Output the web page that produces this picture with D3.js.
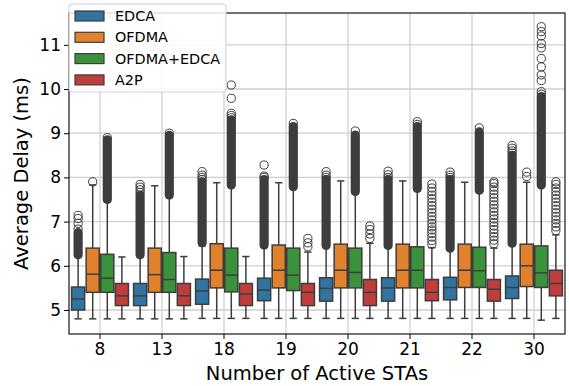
<!DOCTYPE html>
<html>
<head>
<meta charset="utf-8">
<script src="https://cdn.jsdelivr.net/npm/d3@7"></script>
<style>
  body { margin: 0; background: #fff; }
  svg { display: block; font-family: "DejaVu Sans", sans-serif; }
</style>
</head>
<body>
<div id="chart"></div>
<script>
// ---------- data ----------
const categories = ['8', '13', '18', '19', '20', '21', '22', '30'];
const methods = ['EDCA', 'OFDMA', 'OFDMA+EDCA', 'A2P'];
const colors = ['#3274a1', '#e1812c', '#3a923a', '#c03d3e'];
const yTicks = [5, 6, 7, 8, 9, 10, 11];

// [whisker low, q1, median, q3, whisker high] per category
const edcaBoxes = [
  [4.80, 5.00, 5.25, 5.52, 6.20], [4.80, 5.10, 5.32, 5.60, 6.20], [4.81, 5.13, 5.43, 5.70, 6.45],
  [4.81, 5.21, 5.45, 5.72, 6.42], [4.81, 5.20, 5.49, 5.73, 6.42], [4.81, 5.20, 5.50, 5.73, 6.42],
  [4.81, 5.23, 5.51, 5.74, 6.36], [4.81, 5.26, 5.51, 5.77, 6.47]
];
const ofdmaBoxes = [
  [4.80, 5.40, 5.81, 6.40, 7.83], [4.80, 5.40, 5.80, 6.40, 7.81], [4.81, 5.50, 5.90, 6.50, 7.88],
  [4.81, 5.50, 5.90, 6.47, 7.88], [4.81, 5.50, 5.90, 6.49, 7.92], [4.81, 5.50, 5.90, 6.49, 7.92],
  [4.81, 5.51, 5.90, 6.49, 7.89], [4.81, 5.53, 6.00, 6.49, 7.89]
];
const comboBoxes = [
  [4.80, 5.40, 5.72, 6.26, 7.45], [4.80, 5.40, 5.69, 6.30, 7.55], [4.81, 5.41, 5.79, 6.40, 7.78],
  [4.81, 5.44, 5.79, 6.40, 7.74], [4.81, 5.50, 5.85, 6.40, 7.63], [4.81, 5.50, 5.90, 6.43, 7.70],
  [4.81, 5.51, 5.89, 6.42, 7.66], [4.77, 5.51, 5.84, 6.45, 7.78]
];
const a2pBoxes = [
  [4.80, 5.10, 5.32, 5.60, 6.20], [4.80, 5.10, 5.32, 5.60, 6.21], [4.81, 5.10, 5.36, 5.60, 6.21],
  [4.81, 5.10, 5.40, 5.60, 6.31], [4.81, 5.10, 5.40, 5.69, 6.51], [4.81, 5.21, 5.40, 5.69, 6.41],
  [4.81, 5.20, 5.47, 5.69, 6.40], [4.81, 5.32, 5.60, 5.90, 6.70]
];

// stretches where outlier circles overlap into a solid column: [from, to]
const edcaDense = [[6.25, 6.75], [6.25, 7.60], [6.52, 7.90], [6.47, 7.95], [6.46, 7.95], [6.46, 7.95], [6.40, 7.95], [6.51, 8.50]];
const ofdmaDense = [null, null, null, null, null, null, null, null];
const comboDense = [[7.50, 8.85], [7.60, 8.95], [7.83, 9.30], [7.79, 9.15], [7.68, 8.96], [7.75, 9.15], [7.71, 9.03], [7.83, 9.83]];
const a2pDense = [null, null, null, null, null, null, null, null];

// separate outlier circles
const edcaFliers = [
  [6.83, 6.96, 7.07, 7.14], [7.66, 7.72, 7.78, 7.84], [7.95, 8.00, 8.05, 8.13], [8.00, 8.03, 8.28],
  [8.00, 8.05, 8.13], [8.00, 8.06, 8.14], [8.00, 8.05, 8.12], [8.55, 8.60, 8.66, 8.72]
];
const ofdmaFliers = [[7.90], [], [], [], [], [], [], [8.02, 8.12]];
const comboFliers = [
  [8.90], [9.00], [9.35, 9.40, 9.45, 9.79, 10.09], [9.22], [9.05], [9.20, 9.26], [9.12],
  [9.88, 9.94, 10.19, 10.32, 10.50, 10.69, 10.93, 11.03, 11.20, 11.30, 11.41]
];
const a2pFliers = [
  [], [], [], [6.43, 6.52, 6.62], [6.62, 6.72, 6.82, 6.90],
  [6.49, 6.57, 6.65, 6.73, 6.81, 6.88, 6.96, 7.04, 7.12, 7.20, 7.28, 7.36, 7.44, 7.52, 7.60, 7.68, 7.76, 7.85],
  [6.50, 6.58, 6.66, 6.74, 6.82, 6.90, 6.98, 7.06, 7.14, 7.22, 7.30, 7.38, 7.46, 7.54, 7.62, 7.70, 7.78, 7.86, 7.90],
  [6.80, 6.88, 6.96, 7.04, 7.12, 7.20, 7.28, 7.36, 7.44, 7.52, 7.60, 7.68, 7.76, 7.84, 7.90]
];

const boxesBy = [edcaBoxes, ofdmaBoxes, comboBoxes, a2pBoxes];
const denseBy = [edcaDense, ofdmaDense, comboDense, a2pDense];
const fliersBy = [edcaFliers, ofdmaFliers, comboFliers, a2pFliers];

// ---------- layout ----------
const W = 569, H = 386;
const margin = { top: 13, right: 4, bottom: 52, left: 69 };
const lineColor = '#3d3d3d';
const gridColor = '#cfcfcf';

const svg = d3.select('#chart').append('svg')
  .attr('width', W)
  .attr('height', H);

const x = d3.scaleBand()
  .domain(categories)
  .range([margin.left, W - margin.right]);

const xHue = d3.scaleBand()
  .domain(methods)
  .range([0, x.bandwidth()])
  .paddingOuter(0.125);

const y = d3.scaleLinear()
  .domain([4.457, 11.72])
  .range([H - margin.bottom, margin.top]);

/* ----------grid------------*/
const grid = svg.append('g');
grid.selectAll('.gy').data(yTicks).enter().append('line')
  .attr('x1', margin.left).attr('x2', W - margin.right)
  .attr('y1', d => y(d)).attr('y2', d => y(d))
  .attr('stroke', gridColor).attr('stroke-width', 1.3);
grid.selectAll('.gx').data(categories).enter().append('line')
  .attr('x1', d => x(d) + x.bandwidth() / 2).attr('x2', d => x(d) + x.bandwidth() / 2)
  .attr('y1', margin.top).attr('y2', H - margin.bottom)
  .attr('stroke', gridColor).attr('stroke-width', 1.3);

/* ----------boxes------------*/
const r = 4.1;
const capHalf = xHue.bandwidth() / 4;

methods.forEach((m, mi) => {
  const g = svg.append('g').attr('class', 'hue');
  categories.forEach((c, ci) => {
    const [lo, q1, med, q3, hi] = boxesBy[mi][ci];
    const x0 = x(c) + xHue(m);
    const bw = xHue.bandwidth();
    const cx = x0 + bw / 2;
    const bg = g.append('g');

    // whiskers + caps
    bg.append('line').attr('x1', cx).attr('x2', cx).attr('y1', y(q1)).attr('y2', y(lo))
      .attr('stroke', lineColor).attr('stroke-width', 1.5);
    bg.append('line').attr('x1', cx).attr('x2', cx).attr('y1', y(q3)).attr('y2', y(hi))
      .attr('stroke', lineColor).attr('stroke-width', 1.5);
    [lo, hi].forEach(v => {
      bg.append('line').attr('x1', cx - capHalf).attr('x2', cx + capHalf)
        .attr('y1', y(v)).attr('y2', y(v))
        .attr('stroke', lineColor).attr('stroke-width', 1.5);
    });

    // box
    bg.append('rect')
      .attr('x', x0 + 0.75).attr('width', bw - 1.5)
      .attr('y', y(q3)).attr('height', y(q1) - y(q3))
      .attr('fill', colors[mi])
      .attr('stroke', lineColor).attr('stroke-width', 1.5);
    bg.append('line').attr('x1', x0 + 0.75).attr('x2', x0 + bw - 0.75)
      .attr('y1', y(med)).attr('y2', y(med))
      .attr('stroke', lineColor).attr('stroke-width', 1.5);

    // dense outlier column
    const dense = denseBy[mi][ci];
    if (dense) {
      bg.append('rect')
        .attr('x', cx - r - 0.5).attr('width', 2 * r + 1)
        .attr('y', y(dense[1]) - r - 0.5)
        .attr('height', y(dense[0]) - y(dense[1]) + 2 * r + 1)
        .attr('rx', r + 0.5)
        .attr('fill', lineColor);
    }

    // single outliers
    bg.selectAll('circle').data(fliersBy[mi][ci]).enter().append('circle')
      .attr('cx', cx).attr('cy', d => y(d)).attr('r', r)
      .attr('fill', 'none').attr('stroke', lineColor).attr('stroke-width', 1);
  });
});

/* ----------axes------------*/
const xAxis = svg.append('g')
  .attr('transform', `translate(0,${H - margin.bottom})`)
  .call(d3.axisBottom(x).tickSize(5).tickSizeOuter(0));
const yAxis = svg.append('g')
  .attr('transform', `translate(${margin.left},0)`)
  .call(d3.axisLeft(y).tickValues(yTicks).tickSize(5).tickSizeOuter(0));
[xAxis, yAxis].forEach(a => {
  a.select('.domain').remove();
  a.selectAll('.tick line').attr('stroke', '#000').attr('stroke-width', 1);
  a.selectAll('.tick text').attr('fill', '#000')
    .style('font-size', '17px').style('font-family', '"DejaVu Sans", sans-serif');
});
xAxis.selectAll('.tick text').attr('dy', '0.85em').attr('y', 7);
yAxis.selectAll('.tick text').attr('x', -8);

// frame
svg.append('rect')
  .attr('x', margin.left).attr('y', margin.top)
  .attr('width', W - margin.left - margin.right)
  .attr('height', H - margin.top - margin.bottom)
  .attr('fill', 'none').attr('stroke', '#000').attr('stroke-width', 1.1);

svg.append('text')
  .attr('x', (margin.left + W - margin.right) / 2).attr('y', 380)
  .attr('text-anchor', 'middle').style('font-size', '19.5px')
  .text('Number of Active STAs');
svg.append('text')
  .attr('transform', `translate(28,${(margin.top + H - margin.bottom) / 2}) rotate(-90)`)
  .attr('text-anchor', 'middle').style('font-size', '19.5px')
  .text('Average Delay (ms)');

/* ----------legend------------*/
const lg = svg.append('g').attr('transform', 'translate(69,4)');
lg.append('rect')
  .attr('width', 157).attr('height', 88).attr('rx', 3)
  .attr('fill', '#fff').attr('fill-opacity', 0.85)
  .attr('stroke', '#d0d0d0').attr('stroke-width', 1);
methods.forEach((m, i) => {
  const yy = 12 + i * 21.3;
  lg.append('rect')
    .attr('x', 6).attr('y', yy - 5).attr('width', 29).attr('height', 10)
    .attr('fill', colors[i]).attr('stroke', lineColor).attr('stroke-width', 1.2);
  lg.append('text')
    .attr('x', 46).attr('y', yy).attr('dy', '0.36em')
    .style('font-size', '14.4px')
    .text(m);
});
</script>
</body>
</html>
